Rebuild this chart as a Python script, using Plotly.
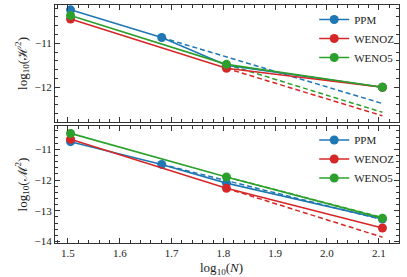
import plotly.graph_objects as go
from plotly.subplots import make_subplots

# log10(N) for N = 32, 48, 64, 128
x_ppm = [1.505, 1.681, 1.806, 2.107]
x_weno = [1.505, 1.806, 2.107]

# Top panel: log10(H^2)
h_ppm = [-10.24, -10.87, -11.50, -12.00]
h_wenoz = [-10.45, -11.57, -12.00]
h_weno5 = [-10.37, -11.48, -12.00]
h_ref_ppm_x = [1.681, 2.107]
h_ref_ppm = [-10.87, -12.37]
h_ref_weno_x = [1.806, 2.107]
h_ref_wenoz = [-11.57, -12.65]
h_ref_weno5 = [-11.48, -12.57]

# Bottom panel: log10(M^2)
m_ppm = [-10.75, -11.49, -12.10, -13.27]
m_wenoz = [-10.67, -12.27, -13.56]
m_weno5 = [-10.48, -11.90, -13.24]
m_ref_ppm_x = [1.681, 2.107]
m_ref_ppm = [-11.49, -13.29]
m_ref_weno_x = [1.806, 2.107]
m_ref_wenoz = [-12.27, -13.86]
m_ref_weno5 = [-11.90, -13.22]

names = ["PPM", "WENOZ", "WENO5"]
colors = ["#1f77b4", "#d62728", "#2ca02c"]

fig = make_subplots(rows=2, cols=1, shared_xaxes=True, vertical_spacing=0.017)

panels = [
    (1, "legend", [(x_ppm, h_ppm), (x_weno, h_wenoz), (x_weno, h_weno5)],
     [(h_ref_ppm_x, h_ref_ppm), (h_ref_weno_x, h_ref_wenoz), (h_ref_weno_x, h_ref_weno5)]),
    (2, "legend2", [(x_ppm, m_ppm), (x_weno, m_wenoz), (x_weno, m_weno5)],
     [(m_ref_ppm_x, m_ref_ppm), (m_ref_weno_x, m_ref_wenoz), (m_ref_weno_x, m_ref_weno5)]),
]

for row, leg, series, refs in panels:
    for (rx, ry), c in zip(refs, colors):
        fig.add_trace(go.Scatter(x=rx, y=ry, mode="lines", showlegend=False,
                                 line=dict(color=c, width=1.5, dash="5px,3px")),
                      row=row, col=1)
    for (sx, sy), c, n in zip(series, colors, names):
        fig.add_trace(go.Scatter(x=sx, y=sy, mode="lines+markers", name=n, legend=leg,
                                 line=dict(color=c, width=1.6),
                                 marker=dict(color=c, size=9)),
                      row=row, col=1)

fam = "Liberation Serif, DejaVu Serif, serif"
font = dict(family=fam, size=11, color="#222")
tfont = dict(family=fam, size=13, color="#222")
axis_common = dict(showgrid=False, zeroline=False, showline=True, linecolor="#333",
                   linewidth=1, mirror="allticks", ticks="inside", ticklen=5,
                   tickwidth=1, tickcolor="#333", tickfont=font)

fig.update_xaxes(**axis_common, range=[1.475, 2.139], dtick=0.1, tick0=1.5,
                 minor=dict(ticks="inside", ticklen=3, dtick=0.02, tick0=1.5, tickcolor="#333"))
fig.update_xaxes(showticklabels=False, row=1, col=1)
fig.update_xaxes(tickformat=".1f", automargin=False, row=2, col=1)

fig.update_yaxes(**axis_common, dtick=1, automargin=False,
                 minor=dict(ticks="inside", ticklen=3, dtick=0.2, tickcolor="#333"))
fig.update_yaxes(range=[-12.79, -10.13], tick0=-12,
                 title=dict(text="log<sub>10</sub>(ℋ<sup>2</sup>)", font=tfont, standoff=4),
                 row=1, col=1)
fig.update_yaxes(range=[-14.05, -10.24], tick0=-14,
                 title=dict(text="log<sub>10</sub>(ℳ<sup>2</sup>)", font=tfont, standoff=4),
                 row=2, col=1)

fig.add_annotation(text="log<sub>10</sub>(<i>N</i>)", xref="paper", yref="paper",
                   x=0.485, y=-0.108, xanchor="center", yanchor="middle",
                   showarrow=False, font=tfont)

legend_common = dict(bgcolor="rgba(0,0,0,0)", font=dict(family=fam, size=11, color="#222"),
                     xanchor="left", yanchor="top", itemwidth=30, tracegroupgap=0,
                     xref="container", yref="container")
fig.update_layout(
    width=407, height=277,
    margin=dict(l=55, r=8, t=5, b=34, autoexpand=False),
    paper_bgcolor="white", plot_bgcolor="white",
    font=font,
    legend=dict(**legend_common, x=0.772, y=0.982),
    legend2=dict(**legend_common, x=0.772, y=0.547),
)

fig.write_html("out.html", config={"displayModeBar": False},
               post_script="document.body.style.margin='0';")
